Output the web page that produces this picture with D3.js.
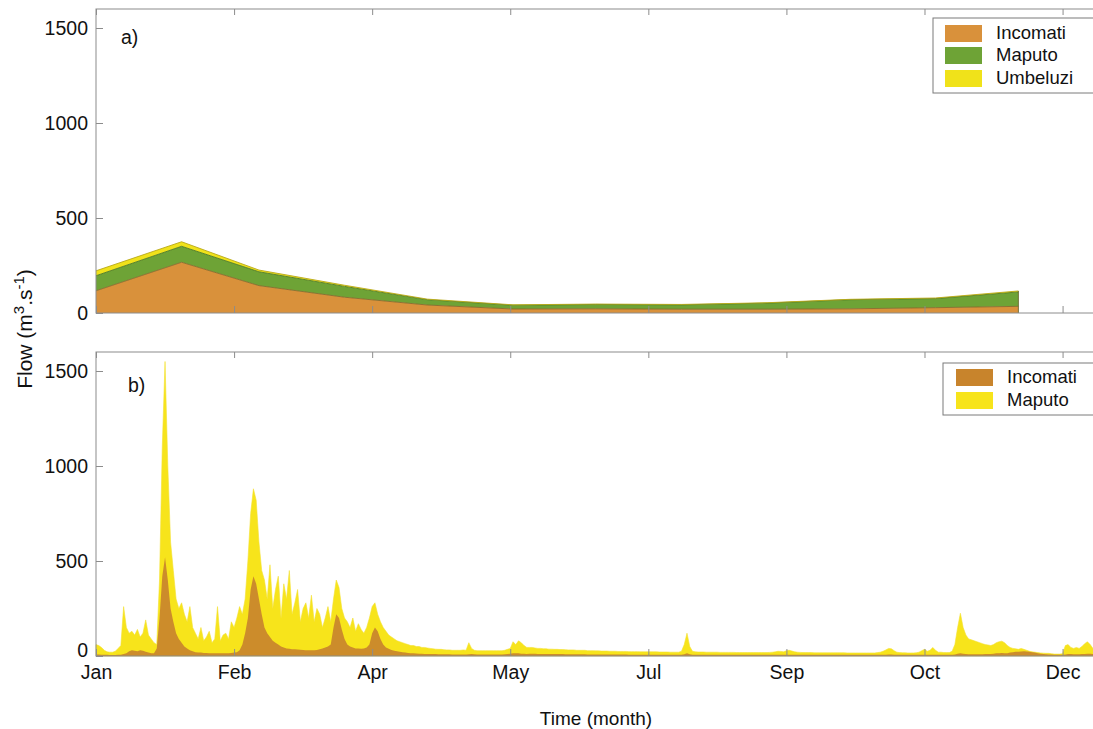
<!DOCTYPE html>
<html>
<head>
<meta charset="utf-8">
<script src="https://cdn.jsdelivr.net/npm/d3@7"></script>
<style>
  body { margin: 0; background: #fff; }
  text { font-family: "Liberation Sans", Arial, Helvetica, sans-serif; fill: #111; }
</style>
</head>
<body>
<div id="chart"></div>
<script>
// ---- data ----
// panel a) monthly mean flow, one value per month start (Jan..Dec)
const monthStartDay = [0, 31, 59, 90, 120, 151, 181, 212, 243, 273, 304, 334];
const incomatiMonthly = [117, 267, 144, 83, 42, 21, 22, 20, 20, 22, 28, 35];
const maputoMonthly   = [79, 84, 73, 57, 28, 20, 23, 23, 32, 48, 48, 76];
const umbeluziMonthly = [26, 24, 9, 6, 3, 2, 2, 2, 2, 2, 3, 5];

// panel b) daily flow, day 0 = 1 Jan
const maputoDaily = [
  60, 55, 45, 30, 22, 20, 20, 25, 40, 55,
  260,
  150, 120, 130, 110, 140, 100, 120, 190, 110, 90, 70, 60,
  400, 1100, 1550, 1000, 600, 450, 300,
  250, 280, 220, 180, 260, 150,
  120, 90, 150, 80, 100, 130, 70, 90, 260, 80, 110, 120, 90, 180, 150,
  200, 260, 220, 300,
  500, 750, 880, 820, 600, 450, 400,
  300, 480, 250, 350, 420, 200, 380, 300, 450, 220, 280, 350, 180, 250,
  280, 200, 320, 180, 250, 220, 150, 200, 260, 180,
  300, 400, 360, 250, 200,
  180, 150, 200, 130, 170, 140, 120, 150,
  200, 260, 280, 220, 180, 150,
  130, 110, 100, 90, 80, 75, 70, 65, 60, 55, 55, 50, 50, 45, 45, 42,
  40, 38, 36, 35, 35, 33, 32, 32, 30, 30, 30, 30, 32, 30, 70, 40, 30, 28, 28, 28,
  28, 28, 28, 28, 28, 28, 28, 30, 35, 40,
  75, 60, 80, 70, 55, 45,
  45, 45, 42, 40, 40, 38, 38, 36, 36, 35, 35, 34, 34, 33, 32, 32, 32, 30, 30, 30,
  30, 28, 28, 28, 27, 27, 26, 26, 26, 25, 25, 25, 24, 24, 24, 24, 23, 23, 23, 23,
  22, 22, 22, 22,
  22, 22, 22, 21, 21, 21, 21, 20, 20, 20, 20, 25,
  60, 120, 50, 25,
  22, 21, 21, 21, 20, 20, 20, 20, 20, 19, 19, 19, 19, 19, 19, 18, 18, 18, 18, 18,
  18, 18, 18, 18, 18, 18, 18, 19, 20, 22, 25, 24, 22,
  28, 30, 26, 22, 20, 19,
  18, 18, 18, 18, 17, 17, 17, 17, 17, 17, 17, 17, 17, 17, 17, 17, 16, 16, 16, 16,
  16, 16, 16, 16, 16,
  16, 16, 18, 20, 25, 32, 40, 38, 28, 20,
  18, 17, 17, 16, 16, 16, 17, 20, 28,
  35, 25, 30, 45, 30, 20,
  20, 18, 18, 18, 25,
  60, 150, 225, 150, 110, 90,
  85, 80, 75, 70, 65, 60, 58, 55, 60, 70, 75, 78, 70, 55,
  45, 40, 38, 35, 40, 35, 30, 25, 22, 20,
  18, 16, 15, 14, 14,
  12, 10, 10, 10, 12,
  55, 60, 45, 40, 45, 40, 50, 65, 75, 60, 40, 35, 30, 30
];
const incomatiDaily = [
  8, 8, 7, 6, 6, 5, 5, 5, 6, 6,
  10, 15, 25, 30, 28, 25, 30, 28, 22, 18, 15, 15,
  40, 200, 420, 520, 400, 250, 180, 120, 90, 70, 50, 40, 30, 25,
  20, 18, 18, 16, 16, 15, 15, 15, 14, 14, 14, 14, 15, 16, 18,
  20, 30, 60, 120,
  200, 350, 420, 380, 300, 220, 150, 120, 100, 80, 70, 60, 50, 45,
  40, 38, 36, 35, 34, 33, 32, 30, 30, 30, 30, 32, 35, 40, 45, 50,
  60, 150, 220, 200, 140, 90, 60, 50, 45, 40, 40, 38, 40, 45,
  60, 120, 150, 130, 90, 60,
  45, 38, 32, 28, 25, 22, 20, 18, 16, 15, 14, 13, 12, 12, 11, 11, 10, 10, 10, 9, 9,
  9, 9, 9, 8, 8, 8, 8, 8, 8, 9, 10, 9, 8, 8, 8, 8, 8, 8, 8, 8,
  8, 8, 9, 10, 12, 14, 15, 14, 12, 12, 11,
  12, 12, 12, 11, 11, 11, 11, 10, 10, 10, 10, 10, 10, 9, 9, 9, 9, 9, 9, 9,
  9, 8, 8, 8, 8, 8, 8, 8, 8, 8, 8, 8, 8, 8, 8, 8, 7, 7, 7, 7,
  7, 7, 7, 7,
  7, 7, 7, 7, 7, 7, 7, 7, 7, 7, 7, 7, 9, 14, 9, 7, 7, 7, 7, 7,
  6, 6, 6, 6, 6, 6, 6, 6, 6, 6, 6, 6, 6, 6, 6, 6, 6, 6, 6, 6,
  6, 6, 6, 6, 6, 6, 6, 6, 6, 6,
  6, 6, 6, 6, 6, 6, 6, 6, 6, 6, 6, 6, 6, 6, 6, 6, 6, 6, 6, 6,
  6, 6, 6, 6, 6, 6, 6, 6, 6, 6, 6, 6, 6, 6, 6, 7, 8, 8, 7, 6,
  6, 6, 6, 6, 6, 6, 6, 6, 6, 6, 6, 7, 7, 6, 6, 6, 6, 6, 6, 6,
  8, 12, 15, 12, 10, 9, 9, 9, 9, 9, 9, 10, 10, 10, 12, 14, 15, 16, 15, 14,
  18, 20, 22, 22, 24, 25, 24, 22, 20, 18, 15, 12, 10, 9, 8,
  8, 7, 7, 7, 7, 8, 10, 10, 9, 9, 9, 10, 10, 12, 12, 10, 9, 9, 9
];

// x ticks every 50 days, labelled with the month they fall in
const tickDays = [0, 50, 100, 150, 200, 250, 300, 350];
const tickLabels = ["Jan", "Feb", "Apr", "May", "Jul", "Sep", "Oct", "Dec"];
const flowTicks = [0, 500, 1000, 1500];

const legendA = ["Incomati", "Maputo", "Umbeluzi"];
const legendB = ["Incomati", "Maputo"];

// ---- layout ----
const width = 1093, height = 729;
const left = 96, right = 1104;   // right edge of the axes is cropped off in the source
const colors = {
  incA: "#d9913b", mapA: "#6ea336", umbA: "#f0e21a",
  incB: "#c8842c", mapB: "#f7e41b",
  axis: "#8c8c8c"
};

const svg = d3.select("#chart").append("svg")
  .attr("width", width)
  .attr("height", height);

const x = d3.scaleLinear().domain([0, 365]).range([left, right]);

function drawFrame(top, bottom, showLabels) {
  const y = d3.scaleLinear().domain([0, 1600]).range([bottom, top]);
  const g = svg.append("g");

  g.append("rect")
    .attr("x", left).attr("y", top)
    .attr("width", right - left).attr("height", bottom - top)
    .attr("fill", "none")
    .attr("stroke", colors.axis);

  // y axis, ticks pointing inwards
  const yAxis = g.append("g")
    .attr("transform", `translate(${left},0)`)
    .call(d3.axisLeft(y).tickValues(flowTicks).tickFormat(d3.format("d"))
      .tickSizeInner(-7).tickSizeOuter(0).tickPadding(8));
  yAxis.select(".domain").remove();
  yAxis.selectAll("line").attr("stroke", colors.axis);
  yAxis.selectAll("text").style("font-size", "19.5px").attr("fill", "#111");
  // the zero label sits a little higher, clear of the month labels
  if (showLabels) yAxis.selectAll("text").filter(d => d === 0).attr("dy", "0.05em");

  // bottom x ticks
  const xAxis = g.append("g")
    .attr("transform", `translate(0,${bottom})`)
    .call(d3.axisBottom(x).tickValues(tickDays).tickSizeInner(-7).tickSizeOuter(0).tickPadding(9)
      .tickFormat((d, i) => showLabels ? tickLabels[i] : ""));
  xAxis.select(".domain").remove();
  xAxis.selectAll("line").attr("stroke", colors.axis);
  xAxis.selectAll("text").style("font-size", "19.5px").attr("fill", "#111");

  // mirrored ticks on top edge
  const xTop = g.append("g")
    .attr("transform", `translate(0,${top})`)
    .call(d3.axisTop(x).tickValues(tickDays).tickSizeInner(-6).tickSizeOuter(0).tickFormat(""));
  xTop.select(".domain").remove();
  xTop.selectAll("line").attr("stroke", colors.axis);

  return { g, y };
}

// ---- panel a) stacked monthly flow ----
const panelA = drawFrame(9, 313, false);
const rowsA = monthStartDay.map((day, i) => ({
  day: day,
  incomati: incomatiMonthly[i],
  maputo: maputoMonthly[i],
  umbeluzi: umbeluziMonthly[i]
}));
const stackA = d3.stack().keys(["incomati", "maputo", "umbeluzi"])(rowsA);
const fillA = [colors.incA, colors.mapA, colors.umbA];
const edgeA = ["#8a6a2a", "#4d7a25", "#b8a818"];

const areaA = d3.area()
  .x(d => x(d.data.day))
  .y0(d => panelA.y(d[0]))
  .y1(d => panelA.y(d[1]));
const lineA = d3.line()
  .x(d => x(d.data.day))
  .y(d => panelA.y(d[1]));

const layersA = panelA.g.insert("g", ":first-child");
stackA.forEach((s, i) => {
  layersA.append("path").datum(s)
    .attr("d", areaA)
    .attr("fill", fillA[i]);
});
stackA.forEach((s, i) => {
  layersA.append("path").datum(s)
    .attr("d", lineA)
    .attr("fill", "none")
    .attr("stroke", edgeA[i])
    .attr("stroke-width", 0.9);
});
// closing edge at the last month
layersA.append("line")
  .attr("x1", x(monthStartDay[11])).attr("x2", x(monthStartDay[11]))
  .attr("y1", panelA.y(0)).attr("y2", panelA.y(stackA[2][11][1]))
  .attr("stroke", "#6b6a30").attr("stroke-width", 0.9);

panelA.g.append("text")
  .attr("x", 121).attr("y", 44)
  .style("font-size", "19.5px")
  .text("a)");

// ---- panel b) daily flow ----
const panelB = drawFrame(352, 656, true);
const areaB = d3.area()
  .x((d, i) => x(i))
  .y0(panelB.y(0))
  .y1(d => panelB.y(d));

const layersB = panelB.g.insert("g", ":first-child");
layersB.append("path").datum(maputoDaily)
  .attr("d", areaB)
  .attr("fill", colors.mapB)
  .attr("stroke", "#f3e030")
  .attr("stroke-width", 0.6);
layersB.append("path").datum(incomatiDaily)
  .attr("d", areaB)
  .attr("fill", colors.incB)
  .attr("fill-opacity", 0.92);

panelB.g.append("text")
  .attr("x", 128).attr("y", 392)
  .style("font-size", "19.5px")
  .text("b)");

// ---- legends ----
function drawLegend(x0, y0, w, h, names, fills, sx, rowY) {
  const lg = svg.append("g");
  lg.append("rect")
    .attr("x", x0).attr("y", y0).attr("width", w).attr("height", h)
    .attr("fill", "#fff").attr("stroke", "#7a7a7a");
  names.forEach((n, i) => {
    lg.append("rect")
      .attr("x", sx).attr("y", rowY[i] - 8)
      .attr("width", 37).attr("height", 17)
      .attr("fill", fills[i]);
    lg.append("text")
      .attr("x", sx + 51).attr("y", rowY[i])
      .attr("dy", "0.35em")
      .style("font-size", "18.5px")
      .text(n);
  });
}
drawLegend(933, 18, 170, 75, legendA, [colors.incA, colors.mapA, colors.umbA], 945, [33, 55, 78]);
drawLegend(943, 363, 160, 52, legendB, [colors.incB, colors.mapB], 956, [377, 400]);

// ---- axis titles ----
const yTitle = svg.append("text")
  .attr("transform", "translate(32,329) rotate(-90)")
  .attr("text-anchor", "middle")
  .style("font-size", "21px");
yTitle.append("tspan").text("Flow (m");
yTitle.append("tspan").attr("baseline-shift", "super").style("font-size", "15px").text("3");
yTitle.append("tspan").text(".s");
yTitle.append("tspan").attr("baseline-shift", "super").style("font-size", "15px").text("-1");
yTitle.append("tspan").text(")");

svg.append("text")
  .attr("x", 596).attr("y", 725)
  .attr("text-anchor", "middle")
  .style("font-size", "19px")
  .text("Time (month)");
</script>
</body>
</html>
